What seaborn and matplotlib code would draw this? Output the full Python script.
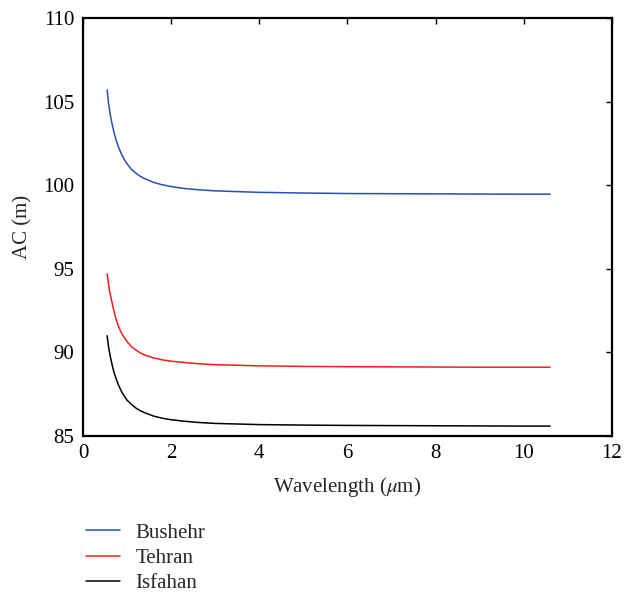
import matplotlib
matplotlib.use("Agg")
import matplotlib.pyplot as plt
import numpy as np
import pandas as pd
import seaborn as sns

# wavelength (um) and AC (m)
wavelength = [0.55, 0.575, 0.6, 0.625, 0.65, 0.7, 0.75, 0.8, 0.85, 0.9,
              0.95, 1.0, 1.1, 1.2, 1.3, 1.4, 1.6, 1.8, 2.0, 2.3,
              2.6, 3.0, 4.0, 5.0, 6.0, 7.0, 8.0, 9.0, 10.0, 10.6]
bushehr = [105.7, 105.0, 104.55, 104.15, 103.8, 103.2, 102.72, 102.33, 102.0, 101.72,
           101.48, 101.28, 100.95, 100.72, 100.53, 100.39, 100.17, 100.02, 99.92, 99.8,
           99.73, 99.66, 99.57, 99.53, 99.5, 99.49, 99.48, 99.47, 99.46, 99.46]
tehran = [94.7, 94.2, 93.75, 93.4, 93.1, 92.5, 92.0, 91.6, 91.3, 91.05,
          90.85, 90.65, 90.35, 90.15, 89.98, 89.85, 89.68, 89.56, 89.48, 89.4,
          89.33, 89.27, 89.2, 89.17, 89.15, 89.14, 89.13, 89.12, 89.12, 89.12]
isfahan = [91.0, 90.45, 90.05, 89.7, 89.4, 88.85, 88.45, 88.1, 87.8, 87.55,
           87.35, 87.15, 86.9, 86.68, 86.52, 86.4, 86.2, 86.07, 85.98, 85.89,
           85.82, 85.76, 85.69, 85.66, 85.64, 85.63, 85.62, 85.61, 85.6, 85.6]
names = ["Bushehr", "Tehran", "Isfahan"]
colors = ["#2a4fb5", "#ff1a1a", "#000000"]

df = pd.DataFrame({
    "Wavelength": wavelength * 3,
    "AC": bushehr + tehran + isfahan,
    "Site": np.repeat(names, len(wavelength)),
})

sns.set_style("white")
plt.rcParams["font.family"] = ["Liberation Serif", "DejaVu Serif"]
plt.rcParams["mathtext.fontset"] = "stix"

fig = plt.figure(figsize=(6.38, 5.95), dpi=100, facecolor="w")
ax = fig.add_axes([0.130, 0.267, 0.829, 0.703])

sns.lineplot(data=df, x="Wavelength", y="AC", hue="Site", palette=colors,
             hue_order=names, linewidth=1.1, ax=ax, legend=False)

ax.set_xlim(0, 12)
ax.set_ylim(85, 110)
ax.set_xticks(range(0, 13, 2))
ax.set_yticks(range(85, 111, 5))
ax.tick_params(direction="in", top=True, right=True, length=4, width=1,
               labelsize=15, colors="k", pad=6)
for s in ax.spines.values():
    s.set_visible(True)
    s.set_linewidth(1.6)
    s.set_color("k")
ax.set_xlabel(r"Wavelength ($\mu$m)", fontsize=15, labelpad=8)
ax.set_ylabel("AC (m)", fontsize=15, labelpad=8)

handles = [plt.Line2D([], [], color=c, lw=1.1) for c in colors]
fig.legend(handles, names, loc="upper left", bbox_to_anchor=(0.122, 0.135),
           frameon=False, fontsize=15, handlelength=1.6, handletextpad=0.75,
           labelspacing=0.28, borderaxespad=0)

fig.savefig("out.png", dpi=100, facecolor="w")
